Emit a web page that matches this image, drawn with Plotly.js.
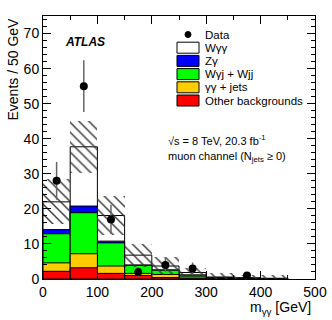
<!DOCTYPE html>
<html>
<head>
<meta charset="utf-8">
<script src="https://cdn.plot.ly/plotly-3.0.1.min.js"></script>
<style>
  html, body { margin: 0; padding: 0; background: #fff; }
  #chart { width: 332px; height: 320px; }
</style>
</head>
<body>
<div id="chart"></div>
<script>
// bin centres (50 GeV wide)
const binCenters = [25, 75, 125, 175, 225, 275, 325, 375, 425];
const binWidth = 50;

// stacked components, bottom to top
const otherBkg  = [2.2, 3.2, 1.6, 1.0, 0.4, 0.2, 0.1, 0.05, 0.03];
const ggJets    = [2.4, 4.0, 2.1, 0.6, 0.9, 0.4, 0.1, 0.05, 0.02];
const wgjWjj    = [8.3, 11.7, 6.6, 2.3, 1.2, 0.5, 0.15, 0.1, 0.05];
const zGamma    = [1.2, 1.9, 0.5, 0.1, 0.1, 0.05, 0.02, 0.01, 0.01];
const wGammaGamma = [7.9, 16.9, 7.3, 2.8, 1.1, 0.7, 0.2, 0.15, 0.1];
const totalErr  = [6.4, 7.5, 5.6, 3.3, 2.6, 1.4, 1.0, 0.9, 0.8];

// data
const dataX   = [25, 75, 125, 175, 225, 275, 375];
const dataY   = [28, 55, 17, 2, 4, 3, 1];
const dataErr = [5.4, 7.4, 4.2, 1.4, 2.0, 1.7, 1.0];

const xTicks = [0, 100, 200, 300, 400, 500];
const yTicks = [0, 10, 20, 30, 40, 50, 60, 70];

const components = [
  { name: "Other backgrounds", vals: otherBkg, color: "#ff0000" },
  { name: "\u03b3\u03b3 + jets", vals: ggJets, color: "#ffcc00" },
  { name: "W\u03b3j + Wjj", vals: wgjWjj, color: "#00ff00" },
  { name: "Z\u03b3", vals: zGamma, color: "#0000ff" },
  { name: "W\u03b3\u03b3", vals: wGammaGamma, color: "#ffffff" },
];

// cumulative sums for the overlay-drawn stack
let running = binCenters.map(() => 0);
const cumulative = components.map(c => {
  running = running.map((v, i) => v + c.vals[i]);
  return running.slice();
});
const total = cumulative[cumulative.length - 1];

const font = "Liberation Sans, Arial, Helvetica, sans-serif";
const traces = [];

// draw tallest first so the lower components sit on top
for (let k = components.length - 1; k >= 0; k--) {
  traces.push({
    type: "bar",
    x: binCenters,
    y: cumulative[k],
    width: binWidth,
    marker: { color: components[k].color, line: { color: "#000", width: 1 } },
    showlegend: false,
    hoverinfo: "skip",
  });
}

// hatched uncertainty band
const bandBase = total.map((t, i) => Math.max(0, t - totalErr[i]));
const bandTop = total.map((t, i) => t + totalErr[i]);
traces.push({
  type: "bar",
  x: binCenters,
  base: bandBase,
  y: bandTop.map((t, i) => t - bandBase[i]),
  width: binWidth,
  marker: {
    color: "rgba(0,0,0,0)",
    line: { width: 0 },
    pattern: { shape: "\\", fgcolor: "#333", bgcolor: "rgba(0,0,0,0)", size: 7, solidity: 0.2 },
  },
  showlegend: false,
  hoverinfo: "skip",
});

traces.push({
  type: "scatter",
  mode: "markers",
  x: dataX,
  y: dataY,
  marker: { color: "#000", size: 8 },
  error_y: { type: "data", array: dataErr, color: "#666", thickness: 1.5, width: 0 },
  showlegend: false,
});

// hand-made ROOT style legend
const legendItems = [
  { name: "Data", color: null },
  ...components.slice().reverse().map(c => ({ name: c.name, color: c.color })),
];
const plotL = 43, plotW = 272, plotT = 16, plotH = 263;
const px2x = p => (p - plotL) / plotW;
const py2y = p => (plotT + plotH - p) / plotH;

const shapes = [];
const annotations = [];
legendItems.forEach((item, i) => {
  const cy = 34.5 + 13.2 * i;
  if (item.color) {
    shapes.push({
      type: "rect", xref: "paper", yref: "paper",
      x0: px2x(177), x1: px2x(199), y0: py2y(cy + 5.5), y1: py2y(cy - 5.5),
      fillcolor: item.color, line: { color: "#000", width: 1 },
    });
  } else {
    shapes.push({
      type: "circle", xref: "paper", yref: "paper",
      x0: px2x(185), x1: px2x(191), y0: py2y(cy + 3), y1: py2y(cy - 3),
      fillcolor: "#000", line: { color: "#000", width: 1 },
    });
  }
  annotations.push({
    xref: "paper", yref: "paper", x: px2x(203), y: py2y(cy),
    xanchor: "left", yanchor: "middle", showarrow: false,
    text: item.name, font: { family: font, size: 11.5, color: "#000" },
  });
});

annotations.push(
  {
    xref: "paper", yref: "paper", x: px2x(63), y: py2y(42),
    xanchor: "left", yanchor: "middle", showarrow: false,
    text: "<b><i>ATLAS</i></b>", font: { family: font, size: 12, color: "#000" },
  },
  {
    xref: "paper", yref: "paper", x: px2x(166), y: py2y(140),
    xanchor: "left", yanchor: "middle", showarrow: false,
    text: "\u221as = 8 TeV, 20.3 fb<sup>-1</sup>", font: { family: font, size: 11, color: "#000" },
  },
  {
    xref: "paper", yref: "paper", x: px2x(166), y: py2y(157),
    xanchor: "left", yanchor: "middle", showarrow: false,
    text: "muon channel (N<sub>jets</sub> \u2265 0)", font: { family: font, size: 11, color: "#000" },
  },
  {
    xref: "paper", yref: "paper", x: px2x(313), y: py2y(308),
    xanchor: "right", yanchor: "middle", showarrow: false,
    text: "m<sub>\u03b3\u03b3</sub> [GeV]", font: { family: font, size: 14, color: "#000" },
  },
  {
    xref: "paper", yref: "paper", x: px2x(12), y: 1.0,
    xanchor: "center", yanchor: "top", showarrow: false, textangle: -90,
    text: "Events / 50 GeV", font: { family: font, size: 14, color: "#000" },
  }
);

const axisCommon = {
  showline: true, linecolor: "#000", linewidth: 1, mirror: "ticks",
  ticks: "inside", ticklen: 8, tickcolor: "#000", tickwidth: 1,
  showgrid: false, zeroline: false,
  tickfont: { family: font, size: 14, color: "#000" },
};

const layout = {
  width: 332,
  height: 320,
  margin: { l: 43, r: 17, t: 16, b: 41 },
  paper_bgcolor: "#fff",
  plot_bgcolor: "#fff",
  barmode: "overlay",
  bargap: 0,
  showlegend: false,
  xaxis: {
    ...axisCommon,
    range: [0, 500],
    tickvals: xTicks,
    ticktext: xTicks.map(String),
    minor: { dtick: 50, ticklen: 4, ticks: "inside", tickcolor: "#000", showgrid: false },
  },
  yaxis: {
    ...axisCommon,
    range: [0, 75],
    tickvals: yTicks,
    ticktext: yTicks.map(String),
    minor: { dtick: 2, ticklen: 4, ticks: "inside", tickcolor: "#000", showgrid: false },
  },
  shapes: shapes,
  annotations: annotations,
};

Plotly.newPlot("chart", traces, layout, { staticPlot: true, displayModeBar: false });
</script>
</body>
</html>
